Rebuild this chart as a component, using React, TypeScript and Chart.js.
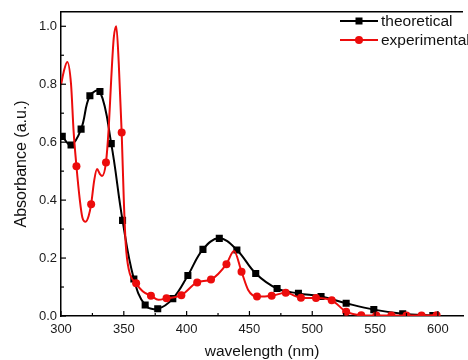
import React, { useEffect, useRef } from 'react';
import { Chart, registerables } from 'chart.js';

Chart.register(...registerables);

// ---- data ----
const seriesNames = ['theoretical', 'experimental'];

const theoX = [301, 308, 316, 323, 331, 340, 349, 358, 367, 377, 389, 401, 413, 426, 440, 455, 472, 489, 507, 527, 549, 572, 596];
const theoY = [0.62, 0.59, 0.645, 0.76, 0.775, 0.595, 0.33, 0.128, 0.038, 0.025, 0.06, 0.14, 0.23, 0.268, 0.228, 0.147, 0.095, 0.078, 0.067, 0.044, 0.022, 0.008, 0.002];

const expX = [300, 302, 305, 308, 310, 312.3, 315, 317, 319.6, 322, 324, 326.5, 328.7, 331, 332.7, 335.8, 338, 340, 342, 344, 346, 348.3, 350, 351.5, 354, 359.8, 365, 371.6, 377.6, 384, 395.8, 408.4, 419.4, 431.7, 437.7, 443.7, 449, 456, 467.7, 478.9, 491, 503, 515.5, 527, 539, 551, 563, 575, 587, 599];
const expY = [0.797, 0.84, 0.877, 0.8, 0.64, 0.517, 0.4, 0.34, 0.325, 0.345, 0.386, 0.47, 0.507, 0.49, 0.483, 0.53, 0.65, 0.82, 0.96, 1.0, 0.87, 0.633, 0.4, 0.25, 0.16, 0.113, 0.085, 0.07, 0.056, 0.061, 0.072, 0.116, 0.126, 0.179, 0.224, 0.153, 0.09, 0.067, 0.07, 0.08, 0.063, 0.062, 0.054, 0.015, 0.003, 0.002, 0.002, 0.002, 0.002, 0.003];
const expMarker = [0, 0, 0, 0, 0, 1, 0, 0, 0, 0, 1, 0, 0, 0, 0, 1, 0, 0, 0, 0, 0, 1, 0, 0, 0, 1, 0, 1, 0, 1, 1, 1, 1, 1, 0, 1, 0, 1, 1, 1, 1, 1, 1, 1, 1, 1, 1, 1, 1, 1];

const xTicks = [300, 350, 400, 450, 500, 550, 600];
const xMinor = [325, 375, 425, 475, 525, 575];
const yTicks = [0, 0.2, 0.4, 0.6, 0.8, 1.0];
const yMinor = [0.1, 0.3, 0.5, 0.7, 0.9];

const FONT = '"Liberation Sans", Arial, sans-serif';
const RED = 'rgb(236,12,12)';
const BLACK = '#000000';

const framePlugin = {
  id: 'frame',
  afterDraw(chart: any) {
    const { ctx, chartArea, scales } = chart;
    const xs = scales.x;
    const ys = scales.y;
    ctx.save();
    ctx.strokeStyle = '#000';
    ctx.lineWidth = 1.5;
    // top border
    ctx.beginPath();
    ctx.moveTo(chartArea.left, chartArea.top);
    ctx.lineTo(chartArea.right, chartArea.top);
    ctx.stroke();
    // inward ticks
    ctx.lineWidth = 1.2;
    const b = chartArea.bottom;
    const l = chartArea.left;
    const drawX = (v: number, len: number) => {
      const p = xs.getPixelForValue(v);
      ctx.beginPath();
      ctx.moveTo(p, b);
      ctx.lineTo(p, b - len);
      ctx.stroke();
    };
    const drawY = (v: number, len: number) => {
      const p = ys.getPixelForValue(v);
      ctx.beginPath();
      ctx.moveTo(l, p);
      ctx.lineTo(l + len, p);
      ctx.stroke();
    };
    xTicks.forEach((v) => drawX(v, 5));
    xMinor.forEach((v) => drawX(v, 3));
    yTicks.forEach((v) => drawY(v, 5));
    yMinor.forEach((v) => drawY(v, 3));

    // legend
    const items = [
      { name: seriesNames[0], color: BLACK, y: 21, style: 'rect' },
      { name: seriesNames[1], color: RED, y: 40, style: 'circle' },
    ];
    ctx.font = `15.5px ${FONT}`;
    ctx.textBaseline = 'middle';
    ctx.textAlign = 'left';
    items.forEach((it) => {
      ctx.strokeStyle = it.color;
      ctx.lineWidth = 2;
      ctx.beginPath();
      ctx.moveTo(340, it.y);
      ctx.lineTo(378, it.y);
      ctx.stroke();
      ctx.fillStyle = it.color;
      if (it.style === 'rect') {
        ctx.fillRect(359 - 3.5, it.y - 3.5, 7, 7);
      } else {
        ctx.beginPath();
        ctx.arc(359, it.y, 4, 0, Math.PI * 2);
        ctx.fill();
      }
      ctx.fillStyle = '#111';
      ctx.fillText(it.name, 381, it.y + 0.5);
    });
    ctx.restore();
  },
};

export default function App() {
  const ref = useRef<HTMLCanvasElement>(null);

  useEffect(() => {
    if (!ref.current) return;
    const chart = new Chart(ref.current, {
      type: 'line',
      data: {
        datasets: [
          {
            label: seriesNames[1],
            data: expX.map((x, i) => ({ x, y: expY[i] })),
            borderColor: RED,
            backgroundColor: RED,
            borderWidth: 2,
            cubicInterpolationMode: 'monotone',
            pointStyle: 'circle',
            pointRadius: (c: any) => (expMarker[c.dataIndex] ? 4 : 0),
            pointBorderWidth: 0,
            pointHoverRadius: 0,
            order: 0,
          },
          {
            label: seriesNames[0],
            data: theoX.map((x, i) => ({ x, y: theoY[i] })),
            borderColor: BLACK,
            backgroundColor: BLACK,
            borderWidth: 2,
            tension: 0.4,
            pointStyle: 'rect',
            pointRadius: 5,
            pointBorderWidth: 0,
            pointHoverRadius: 0,
            order: 1,
          },
        ],
      },
      options: {
        responsive: false,
        animation: false,
        devicePixelRatio: 1,
        layout: { padding: { top: 10, right: 0, left: 0, bottom: 0 } },
        plugins: { legend: { display: false }, tooltip: { enabled: false } },
        scales: {
          x: {
            type: 'linear',
            min: 300,
            max: 620,
            afterBuildTicks: (s: any) => {
              s.ticks = xTicks.map((v) => ({ value: v }));
            },
            afterFit: (s: any) => {
              s.height = 44;
            },
            grid: { display: false, drawTicks: false },
            border: { display: true, color: '#000', width: 1.5 },
            ticks: {
              color: '#1a1a1a',
              font: { family: FONT, size: 13 },
              padding: 6,
              maxRotation: 0,
              autoSkip: false,
              callback: (v: any) => String(v),
            },
            title: {
              display: true,
              text: 'wavelength (nm)',
              color: '#111',
              font: { family: FONT, size: 15.5, lineHeight: 1 },
              padding: { top: 0, bottom: 0.5 },
            },
          },
          y: {
            type: 'linear',
            min: 0,
            max: 1.05,
            afterBuildTicks: (s: any) => {
              s.ticks = yTicks.map((v) => ({ value: v }));
            },
            afterFit: (s: any) => {
              s.width = 61;
            },
            grid: { display: false, drawTicks: false },
            border: { display: true, color: '#000', width: 1.5 },
            ticks: {
              color: '#1a1a1a',
              font: { family: FONT, size: 13 },
              padding: 4,
              autoSkip: false,
              callback: (v: any) => Number(v).toFixed(1),
            },
            title: {
              display: true,
              text: 'Absorbance (a.u.)',
              color: '#111',
              font: { family: FONT, size: 16, lineHeight: 1 },
              padding: { top: 14, bottom: 0 },
            },
          },
        },
      },
      plugins: [framePlugin],
    } as any);
    return () => chart.destroy();
  }, []);

  return (
    <div style={{ position: 'fixed', left: 0, top: 0, width: 468, height: 360, background: '#fff' }}>
      <canvas ref={ref} width={468} height={360} style={{ width: 468, height: 360, display: 'block' }} />
    </div>
  );
}
